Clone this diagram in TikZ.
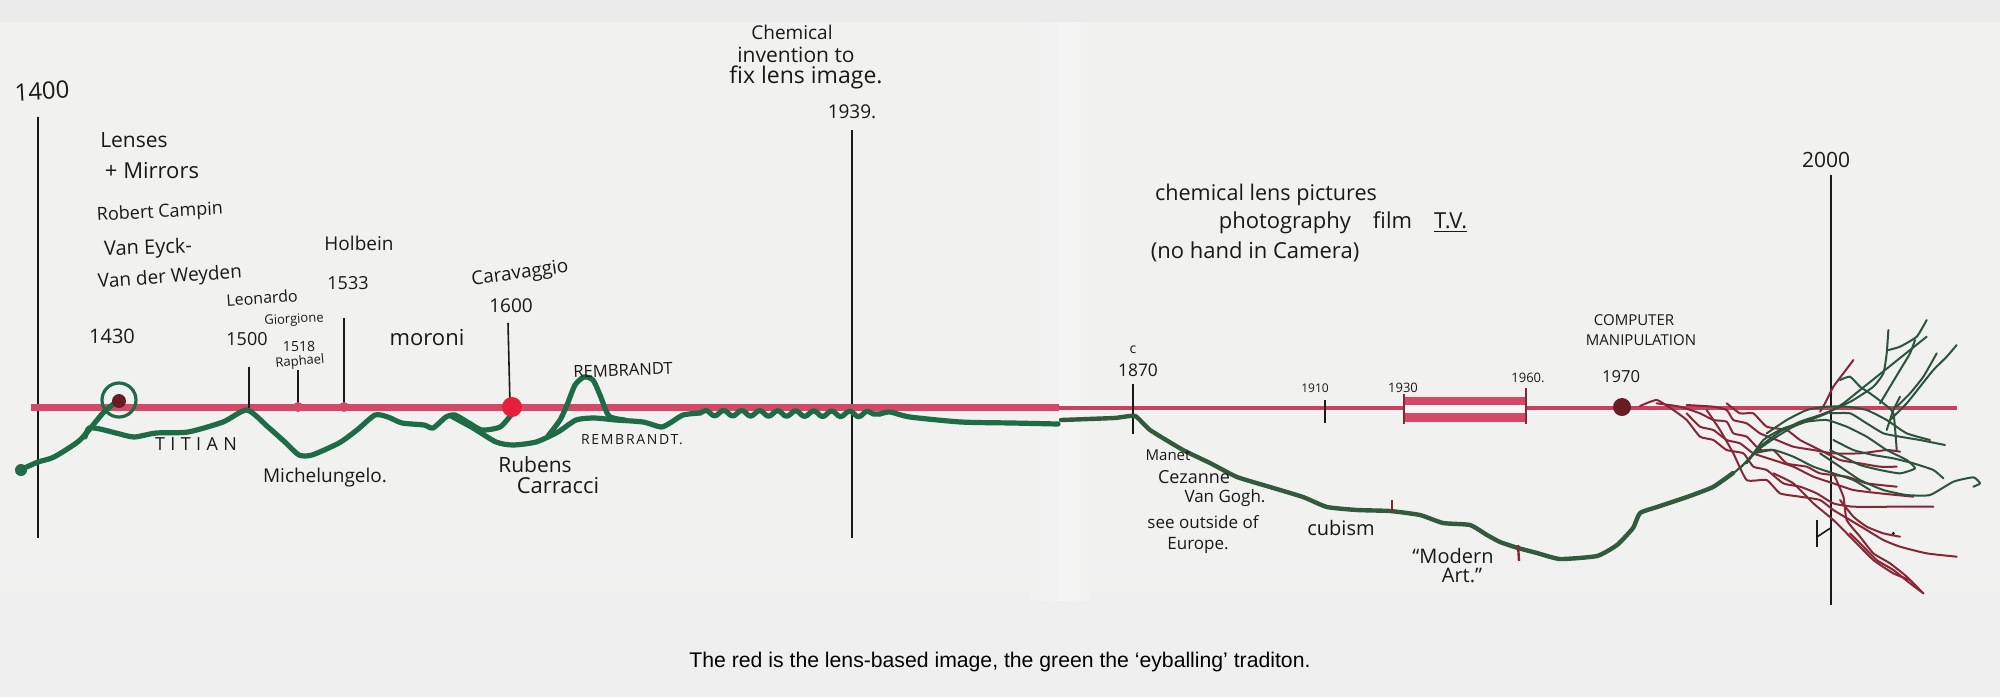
\documentclass[tikz,border=0pt]{standalone}
\usepackage{fontspec}
\setmainfont{Liberation Sans}
\newfontfamily\handfont{Open Sans}
\usetikzlibrary{decorations.pathmorphing}
\definecolor{bg}{RGB}{239,239,239}
\definecolor{topband}{RGB}{235,235,235}
\definecolor{paper}{RGB}{241,241,240}
\definecolor{lensred}{RGB}{214,72,104}
\definecolor{lensred2}{RGB}{204,64,94}
\definecolor{eyegreen}{RGB}{30,108,70}
\definecolor{eyegreen2}{RGB}{50,90,60}
\definecolor{tanred}{RGB}{135,38,52}
\definecolor{tangreen}{RGB}{44,84,58}
\definecolor{ink}{RGB}{25,25,25}
\definecolor{dotred}{RGB}{232,30,58}
\definecolor{darkdot}{RGB}{105,28,36}
\newcommand\hs[1]{\handfont\fontsize{#1}{#1}\selectfont}
\begin{document}
\begin{tikzpicture}[x=0.5pt,y=-0.5pt,
  hand/.style={inner sep=0pt, text=ink},
  yearline/.style={ink, line width=0.8pt},
  greenleft/.style={eyegreen, line width=2.6pt, line join=round, line cap=round},
  greenright/.style={eyegreen2, line width=2.2pt, line join=round, line cap=round},
  tanr/.style={tanred, line width=1pt, line join=round, line cap=round},
  tang/.style={tangreen, line width=1pt, line join=round, line cap=round}]
\useasboundingbox (0,0) rectangle (2000,697);
\fill[bg] (0,0) rectangle (2000,697);
\fill[topband] (0,0) rectangle (2000,22);
\fill[paper] (0,22) rectangle (2000,540);
\shade[top color=paper, bottom color=bg] (0,540) rectangle (2000,612);
\shade[left color=paper, right color=black!5] (1030,22) rectangle (1059,600);
\shade[left color=black!4, right color=paper] (1059,22) rectangle (1090,600);

% long year lines
\coordinate (y1400t) at (38,117); \coordinate (y1400b) at (38,538);
\coordinate (y1939t) at (852,130); \coordinate (y1939b) at (852,538);
\coordinate (y2000t) at (1831,175); \coordinate (y2000b) at (1831,605);
\draw[yearline] (y1400t) -- (y1400b);
\draw[yearline] (y1939t) -- (y1939b);
\draw[yearline] (y2000t) -- (y2000b);

% red lens line
\coordinate (rl0) at (31,407); \coordinate (rl1) at (1059,407);
\coordinate (rr0) at (1059,408); \coordinate (rr1) at (1957,408);
\draw[lensred, line width=3.5pt] (rl0) -- (rl1);
\draw[lensred2, line width=2pt] (rr0) -- (rr1);

% 1930-1960 box
\fill[lensred] (1404,397) rectangle (1526,405);
\fill[lensred] (1404,413) rectangle (1526,422);
\fill[paper!60!white] (1404,405) rectangle (1526,413);
\draw[tanred, line width=0.8pt] (1404,394) -- (1404,424);
\draw[tanred, line width=0.8pt] (1526,388) -- (1526,424);

% ticks
\draw[yearline] (249,367) -- (249,412);
\draw[yearline] (298,370) -- (298,407);
\draw[yearline] (344,318) -- (344,407);
\draw[yearline] (508,323) -- (510,405);
\draw[yearline] (1133,384) -- (1133,434);
\draw[yearline] (1325,400) -- (1325,423);

% green eyeballing line
\fill[eyegreen] (21,470) circle (6);
\draw[greenleft] plot[smooth,tension=0.4] coordinates {(20,470) (38,462) (54,457) (80,440) (103,413) (116,402)};
\draw[greenleft] plot[smooth,tension=0.4] coordinates {(85,437) (89,428) (100,429) (116,433) (134,437) (156,433) (188,432) (223,422) (247,410) (268,427) (286,443) (299,455) (312,455) (339,443) (357,430) (375,415) (388,417) (402,423) (424,425) (433,428) (446,417) (455,415) (469,423) (482,430) (500,427) (511,415)};
\draw[greenleft] plot[smooth,tension=0.4] coordinates {(451,416) (473,428) (496,442) (513,445) (536,442) (558,432) (576,420) (594,418) (616,420) (643,422) (661,427) (670,423) (683,415) (700,413)};
\draw[greenleft] plot[smooth,tension=0.4] coordinates {(548,436) (560,420) (567,405) (575,385) (584,377) (593,380) (600,395) (609,416) (625,420)};
\draw[greenleft, decorate, decoration={snake, amplitude=1.4pt, segment length=9pt}] (700,413) -- (880,414);
\draw[greenleft] plot[smooth,tension=0.4] coordinates {(880,414) (890,412) (910,417) (961,422) (1012,423) (1058,424)};
\draw[greenright] plot[smooth,tension=0.3] coordinates {(1061,420) (1114,418) (1135,416) (1150,430) (1183,450) (1210,463) (1237,477) (1270,487) (1303,497) (1327,507) (1357,510) (1390,511) (1420,515) (1443,523) (1470,525) (1487,535) (1500,542) (1518,548) (1537,553) (1560,559) (1597,556) (1617,545) (1633,528) (1640,513) (1657,507) (1687,497) (1713,487) (1733,473)};
\draw[tanred, line width=1.2pt] (1392,500) -- (1392,513);
\draw[tanred, line width=1.2pt] (1518,545) -- (1519,561);

% dots
\draw[eyegreen, line width=1.6pt] (119,400) circle (17);
\fill[darkdot] (119,401) circle (7);
\fill[lensred] (298,407) circle (5);
\fill[lensred] (344,407) circle (5);
\fill[dotred] (512,407) circle (10);
\fill[darkdot] (1622,407) circle (9);

% tangle after 1970 (coordinates of a 3x crop at 1500,120)
\begin{scope}[shift={(1500,120)}, x=0.16667pt, y=-0.16667pt]
\draw[tanr] plot[smooth,tension=0.3] coordinates {(420,858) (470,840) (520,870) (560,900) (600,950) (640,960) (680,990) (730,1000) (760,1040) (800,1050) (850,1090) (900,1100) (950,1120) (1000,1150) (1060,1160) (1200,1160) (1300,1160)};
\draw[tanr] plot[smooth,tension=0.3] coordinates {(470,850) (540,860) (600,880) (640,900) (680,905) (700,940) (740,950) (780,990) (820,990) (860,1030) (920,1040) (960,1060) (1040,1070) (1100,1090) (1190,1100)};
\draw[tanr] plot[smooth,tension=0.3] coordinates {(560,855) (640,860) (680,870) (700,900) (740,910) (780,940) (830,960) (880,980) (940,990) (1000,1000) (1080,1000) (1160,990) (1200,995)};
\draw[tanr] plot[smooth,tension=0.3] coordinates {(620,870) (660,930) (700,1000) (740,1080) (800,1080) (840,1120) (900,1130) (960,1140) (1000,1170) (1050,1200) (1100,1230) (1150,1260) (1200,1280) (1280,1300) (1370,1310)};
\draw[tanr] plot[smooth,tension=0.3] coordinates {(680,850) (720,880) (760,880) (800,920) (860,930) (900,960) (960,990) (1020,1020) (1080,1030) (1140,1040) (1190,1040)};
\draw[tanr] plot[smooth,tension=0.3] coordinates {(1000,1060) (1030,1130) (1040,1200) (1080,1250) (1120,1300) (1170,1330) (1220,1370) (1270,1420)};
\draw[tanr] plot[smooth,tension=0.3] coordinates {(1060,720) (1030,760) (1000,800) (975,850) (960,875)};
\draw[tanr] plot[smooth,tension=0.3] coordinates {(1020,1140) (1060,1190) (1100,1220) (1150,1240) (1200,1250)};
\draw[tanr] plot[smooth,tension=0.3] coordinates {(1050,1240) (1090,1280) (1130,1320) (1180,1350) (1230,1390) (1270,1420)};
\draw[tanr] plot[smooth,tension=0.3] coordinates {(560,880) (600,920) (640,930) (680,960) (720,970) (760,1000) (820,1020) (880,1040) (940,1070) (1000,1090) (1060,1110) (1140,1120) (1240,1130)};
\draw[tanr] plot[smooth,tension=0.3] coordinates {(820,1060) (880,1090) (940,1150) (1000,1200) (1060,1260) (1120,1320) (1180,1360) (1230,1380)};
\draw[ink, line width=0.8pt] (950,1200) -- (950,1280);
\draw[ink, line width=0.8pt] (952,1250) -- (990,1225);
\fill[ink] (1180,1240) circle (5);
\draw[tang] plot[smooth,tension=0.3] coordinates {(700,1060) (740,1025) (780,985) (830,950) (880,920) (930,900) (980,880) (1030,850) (1080,810) (1130,770) (1180,730) (1230,690) (1280,650)};
\draw[tang] plot[smooth,tension=0.3] coordinates {(720,1045) (780,980) (840,935) (900,905) (960,885) (1010,865) (1060,840) (1120,800) (1150,760) (1160,700) (1165,630)};
\draw[tang] plot[smooth,tension=0.3] coordinates {(1165,690) (1200,680) (1250,650) (1280,600)};
\draw[tang] plot[smooth,tension=0.3] coordinates {(990,880) (1050,880) (1100,910) (1150,940) (1200,950) (1260,960) (1335,975)};
\draw[tang] plot[smooth,tension=0.3] coordinates {(1020,780) (1050,770) (1080,800) (1110,820) (1150,850) (1180,880) (1190,990)};
\draw[tang] plot[smooth,tension=0.3] coordinates {(740,1030) (790,960) (850,925) (920,905) (980,900) (1040,920) (1100,950) (1160,990) (1220,1020) (1245,1045) (1200,1060) (1140,1050) (1080,1035) (1030,1010) (990,990)};
\draw[tang] plot[smooth,tension=0.3] coordinates {(1000,960) (1060,990) (1120,1005) (1180,1015) (1240,1030) (1300,1050) (1330,1075)};
\draw[tang] plot[smooth,tension=0.3] coordinates {(960,1000) (1020,1040) (1080,1080) (1150,1110) (1220,1125) (1290,1125) (1360,1085) (1420,1072) (1440,1090) (1420,1100)};
\draw[tang] plot[smooth,tension=0.3] coordinates {(1170,900) (1220,850) (1260,800) (1300,750) (1340,710) (1370,675)};
\draw[tang] plot[smooth,tension=0.3] coordinates {(1190,860) (1230,820) (1270,770) (1310,700)};
\draw[tang] plot[smooth,tension=0.3] coordinates {(1200,830) (1180,870) (1160,930)};
\draw[tang] plot[smooth,tension=0.3] coordinates {(760,1000) (820,990) (880,1010) (940,1040) (1000,1060) (1060,1080) (1110,1110)};
\draw[tang] plot[smooth,tension=0.3] coordinates {(1245,660) (1230,700) (1200,750) (1170,800) (1140,850)};
\draw[tang] plot[smooth,tension=0.3] coordinates {(800,940) (860,900) (920,870) (980,860) (1040,860) (1100,870) (1160,900) (1220,940) (1290,960)};
\end{scope}

% labels
\node[hand, font=\hs{12}, rotate=3] (t1400) at (42,91) {1400};
\node[hand, font=\hs{10.5}] (lenses) at (134,140) {Lenses};
\node[hand, font=\hs{11}] (mirrors) at (152,171) {+ Mirrors};
\node[hand, font=\hs{9}, rotate=3] (campin) at (160,213) {Robert Campin};
\node[hand, font=\hs{10}, rotate=2] (eyck) at (148,249) {Van Eyck-};
\node[hand, font=\hs{9.5}, rotate=4] (weyden) at (170,278) {Van der Weyden};
\node[hand, font=\hs{9.5}] (holbein) at (359,243) {Holbein};
\node[hand, font=\hs{9}] (t1533) at (348,283) {1533};
\node[hand, font=\hs{8}, rotate=4] (leonardo) at (262,298) {Leonardo};
\node[hand, font=\hs{6.5}, rotate=3] (giorgione) at (294,320) {Giorgione};
\node[hand, font=\hs{9}] (t1500) at (247,339) {1500};
\node[hand, font=\hs{7}] (t1518) at (299,346) {1518};
\node[hand, font=\hs{6.5}, rotate=5] (raphael) at (300,362) {Raphael};
\node[hand, font=\hs{10}] (t1430) at (112,336) {1430};
\node[hand, font=\hs{11}] (moroni) at (427,338) {moroni};
\node[hand, font=\hs{9.5}, rotate=8] (caravaggio) at (520,274) {Caravaggio};
\node[hand, font=\hs{9.5}] (t1600) at (511,306) {1600};
\node[hand, font=\hs{8.3}, rotate=2] (rembrandt) at (623,370) {REMBRANDT};
\node[hand, font=\hs{9}\addfontfeatures{LetterSpace=30}] (titian) at (196,444) {TITIAN};
\node[hand, font=\hs{9.5}] (michel) at (325,478) {Michelungelo.};
\node[hand, font=\hs{10.5}] (rubens) at (535,465) {Rubens};
\node[hand, font=\hs{11}] (carracci) at (558,486) {Carracci};
\node[hand, font=\hs{7}\addfontfeatures{LetterSpace=12}] (rembrandt2) at (632,440) {REMBRANDT.};
\node[hand, font=\hs{9.5}] (chem) at (792,32) {Chemical};
\node[hand, font=\hs{10.5}] (invent) at (796,55) {invention to};
\node[hand, font=\hs{11.5}] (fix) at (806,77) {fix lens image.};
\node[hand, font=\hs{9.5}] (t1939) at (852,112) {1939.};
\node[hand, font=\hs{10.8}] (chemlens) at (1266,195) {chemical lens pictures};
\node[hand, font=\hs{11}] (photo) at (1343,223) {photography\quad film\quad\underline{T.V.}};
\node[hand, font=\hs{11}] (nohand) at (1255,252) {(no hand in Camera)};
\node[hand, font=\hs{7}] (circa) at (1133,350) {c};
\node[hand, font=\hs{8.7}] (t1870) at (1138,370) {1870};
\node[hand, font=\hs{6}] (t1910) at (1315,388) {1910};
\node[hand, font=\hs{6.5}] (t1930) at (1403,388) {1930};
\node[hand, font=\hs{6.5}] (t1960) at (1528,378) {1960.};
\node[hand, font=\hs{7.5}] (manet) at (1168,455) {Manet};
\node[hand, font=\hs{9}] (cezanne) at (1194,477) {Cezanne};
\node[hand, font=\hs{8.5}] (gogh) at (1225,498) {Van Gogh.};
\node[hand, font=\hs{8.5}] (outside) at (1203,522) {see outside of};
\node[hand, font=\hs{8.5}] (europe) at (1198,545) {Europe.};
\node[hand, font=\hs{10}] (cubism) at (1341,528) {cubism};
\node[hand, font=\hs{10}] (modern) at (1453,556) {“Modern};
\node[hand, font=\hs{10}] (art) at (1462,575) {Art.”};
\node[hand, font=\hs{7.5}] (computer) at (1634,320) {COMPUTER};
\node[hand, font=\hs{7.5}] (manip) at (1641,340) {MANIPULATION};
\node[hand, font=\hs{8.3}] (t1970) at (1621,377) {1970};
\node[hand, font=\hs{10.5}] (t2000) at (1826,160) {2000};
\node[inner sep=0pt, text=black, font=\fontsize{10.6}{12}\selectfont] (caption) at (1000,662) {The red is the lens-based image, the green the ‘eyballing’ traditon.};
\end{tikzpicture}
\end{document}
